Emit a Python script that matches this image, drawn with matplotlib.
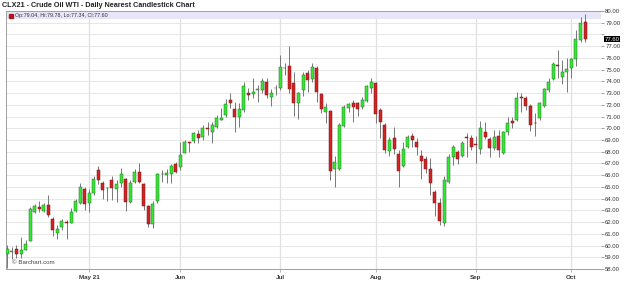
import numpy as np
import pandas as pd
import matplotlib
matplotlib.use("Agg")
import matplotlib.pyplot as plt
from matplotlib.patches import Rectangle
from matplotlib.transforms import blended_transform_factory

plt.rcParams['font.family'] = ['Liberation Sans', 'DejaVu Sans']

title = "CLX21 - Crude Oil WTI - Daily Nearest Candlestick Chart"
holidays = ["2021-05-31", "2021-07-05", "2021-09-06"]
dates = pd.bdate_range("2021-04-07", "2021-10-06", freq="C", holidays=holidays)
month_labels = ["May 21", "Jun", "Jul", "Aug", "Sep", "Oct"]

# daily OHLC
opens = [59.26, 59.45, 59.70, 59.30, 59.65, 60.40, 62.90, 63.25, 62.95, 63.45,
         62.30, 61.05, 61.60, 62.05, 61.90, 62.95, 63.60, 64.83, 63.60, 64.50,
         66.45, 65.30, 64.87, 65.55, 64.83, 65.37, 65.70, 63.70, 65.45, 66.30,
         65.23, 63.33, 61.80, 63.80, 66.08, 66.02, 66.10, 66.93, 66.70, 67.93,
         68.80, 68.92, 69.51, 69.29, 70.02, 69.72, 70.14, 70.70, 71.14, 72.41,
         71.62, 71.00, 71.56, 73.04, 72.93, 73.30, 73.27, 73.98, 72.70, 73.40,
         73.41, 75.12, 75.31, 73.84, 72.13, 73.27, 74.68, 74.17, 75.11, 72.90,
         71.42, 71.48, 66.51, 66.50, 70.20, 71.70, 72.13, 72.19, 71.85, 72.36,
         73.41, 73.89, 71.56, 70.28, 68.07, 69.15, 67.80, 66.79, 68.44, 69.35,
         68.86, 67.64, 67.36, 66.51, 64.60, 63.67, 61.90, 65.45, 67.58, 68.01,
         67.67, 69.27, 69.15, 68.60, 68.21, 69.72, 69.06, 68.30, 69.35, 67.93,
         69.71, 70.63, 70.71, 72.64, 72.61, 71.90, 70.45, 70.85, 71.93, 73.27,
         74.17, 75.37, 74.40, 74.77, 75.11, 75.88, 77.53, 79.04]
highs = [60.06, 59.90, 60.05, 60.70, 60.50, 63.30, 63.55, 63.80, 63.60, 64.30,
         62.45, 61.75, 62.30, 62.20, 63.20, 64.00, 65.37, 64.95, 64.83, 65.95,
         66.80, 65.50, 65.03, 65.90, 65.60, 66.60, 65.75, 65.60, 66.50, 67.00,
         65.30, 63.47, 63.80, 66.20, 66.45, 66.56, 66.96, 67.15, 68.80, 69.00,
         68.86, 69.72, 69.86, 70.28, 70.57, 70.57, 71.14, 71.70, 72.47, 72.98,
         72.27, 72.13, 73.98, 73.41, 74.26, 73.69, 74.26, 74.26, 73.32, 73.70,
         76.25, 75.54, 77.02, 74.83, 73.13, 74.83, 74.97, 75.54, 75.31, 72.98,
         72.13, 71.56, 67.60, 70.43, 71.99, 72.19, 72.41, 72.27, 72.64, 73.70,
         74.26, 73.98, 71.70, 70.43, 69.29, 70.14, 68.15, 68.86, 69.43, 69.63,
         69.15, 68.15, 67.60, 67.44, 64.74, 64.03, 65.97, 67.78, 68.58, 68.15,
         68.92, 69.57, 69.43, 69.35, 70.63, 70.57, 69.29, 69.86, 69.86, 69.80,
         70.99, 70.99, 73.13, 73.04, 72.76, 72.07, 71.28, 72.27, 73.47, 74.26,
         75.68, 76.68, 75.82, 76.02, 76.02, 78.38, 79.46, 79.78]
lows = [58.07, 58.85, 58.90, 58.90, 59.60, 60.35, 62.75, 62.90, 62.90, 62.45,
        60.80, 60.55, 61.35, 60.60, 61.90, 62.90, 63.55, 63.05, 62.85, 64.30,
        65.25, 63.95, 63.83, 63.85, 63.75, 65.03, 62.98, 63.60, 65.37, 65.30,
        63.05, 61.60, 61.48, 63.60, 65.40, 65.30, 65.37, 66.16, 66.45, 67.87,
        67.97, 68.78, 68.78, 69.00, 69.43, 68.72, 70.00, 70.70, 71.00, 71.70,
        69.72, 70.14, 71.42, 72.41, 72.56, 72.27, 72.98, 72.56, 71.93, 72.84,
        73.27, 74.54, 72.98, 71.05, 70.77, 72.76, 73.13, 73.98, 72.27, 71.28,
        70.43, 65.60, 65.00, 66.40, 70.14, 71.42, 70.57, 71.05, 71.62, 72.27,
        72.98, 70.43, 69.15, 67.93, 67.67, 67.80, 65.03, 66.73, 68.30, 68.44,
        67.73, 65.65, 66.22, 64.32, 62.53, 61.76, 61.68, 65.37, 66.87, 66.96,
        67.58, 67.58, 68.15, 67.00, 67.81, 69.09, 67.58, 68.15, 67.53, 67.81,
        69.43, 70.00, 70.65, 71.42, 71.56, 69.80, 69.35, 70.71, 71.85, 73.13,
        74.12, 74.26, 73.75, 73.13, 74.26, 75.31, 77.39, 77.34]
closes = [59.72, 59.50, 59.27, 59.63, 60.10, 63.10, 63.38, 63.10, 63.45, 62.60,
          61.30, 61.40, 62.10, 61.90, 62.90, 63.80, 64.97, 63.55, 64.45, 65.65,
          65.60, 64.75, 64.90, 64.90, 65.25, 66.10, 63.75, 65.37, 66.30, 65.45,
          63.33, 61.80, 63.52, 66.10, 66.10, 66.20, 66.80, 66.25, 67.73, 68.80,
          68.78, 69.57, 69.20, 70.00, 69.98, 70.28, 70.90, 70.91, 72.07, 72.13,
          71.00, 71.62, 73.60, 72.84, 73.13, 73.32, 74.03, 72.84, 72.98, 73.42,
          75.26, 75.10, 73.35, 72.13, 72.98, 74.55, 74.12, 75.20, 73.13, 71.62,
          71.79, 66.36, 67.16, 70.28, 71.85, 72.04, 71.85, 71.62, 72.41, 73.61,
          73.98, 71.22, 70.57, 68.15, 69.00, 68.24, 66.39, 68.20, 69.24, 69.00,
          68.38, 67.24, 66.51, 65.37, 63.61, 62.13, 65.60, 67.58, 68.44, 67.39,
          68.72, 69.20, 68.44, 68.58, 70.00, 69.29, 68.30, 69.29, 68.15, 69.66,
          70.43, 70.43, 72.61, 72.61, 71.90, 70.28, 70.43, 72.19, 73.32, 73.98,
          75.45, 75.30, 74.83, 75.03, 75.88, 77.59, 78.95, 77.60]

o = np.array(opens)
h = np.array(highs)
l = np.array(lows)
c = np.array(closes)
x = np.arange(len(dates))

fig = plt.figure(figsize=(6.24, 2.92), dpi=100)
ax = fig.add_axes([6/624, 1 - 269/292, 595/624, 258/292])

ax.set_xlim(-0.3, 130.5)
ax.set_ylim(58, 80)

# header band
ax.axhspan(79.32, 80, color='#e6e6f8', zorder=0.5, lw=0)

# gridlines
yt = np.arange(58, 80.01, 1.0)
for v in yt:
    ax.axhline(v, color='#e3e3e3', lw=0.6, zorder=0.4)
mpos = [i for i in range(1, len(dates)) if dates[i].month != dates[i-1].month]
for p in mpos:
    ax.axvline(p, color='#e0e0e0', lw=0.9, zorder=0.4)

# candles
up = c >= o
bot = np.minimum(o, c)
hgt = np.maximum(np.abs(c - o), 0.04)
ax.vlines(x, l, h, color='#777777', lw=0.7, zorder=2)
ax.bar(x[up], hgt[up], bottom=bot[up], width=0.66, color='#33e833',
       edgecolor='#2b6e2b', lw=0.35, zorder=3)
ax.bar(x[~up], hgt[~up], bottom=bot[~up], width=0.66, color='#d42222',
       edgecolor='#6e1c1c', lw=0.35, zorder=3)

# axes styling
for s in ['left', 'bottom', 'top']:
    ax.spines[s].set_color('#a0a0a0')
    ax.spines[s].set_linewidth(0.7)
ax.spines['right'].set_visible(False)

ax.yaxis.tick_right()
ylabels = [f"{v:.2f}" for v in yt]
ylabels = ['' if abs(v - c[-1]) < 0.5 else s for v, s in zip(yt, ylabels)]
ax.set_yticks(yt)
ax.set_yticklabels(ylabels)
ax.tick_params(axis='y', length=2, width=0.5, color='#777777', labelsize=4.3,
               labelcolor='#333333', pad=1)
ax.set_xticks(mpos)
ax.set_xticklabels(month_labels, fontweight='bold')
ax.tick_params(axis='x', length=2, width=0.5, color='#999999', labelsize=4.5,
               labelcolor='#333333', pad=2)

# last price marker
tr = blended_transform_factory(ax.transAxes, ax.transData)
ax.text(1.006, c[-1], f"{c[-1]:.2f}", transform=tr, ha='left', va='center',
        fontsize=4.3, color='white',
        bbox=dict(boxstyle='square,pad=0.12', fc='black', ec='none'))

# header info
ax.add_patch(Rectangle((0.005, 0.973), 0.0067, 0.017, transform=ax.transAxes,
                       color='#b01818', zorder=5))
ax.text(0.0155, 0.983, f"Op:{o[-1]:.2f}, Hi:{h[-1]:.2f}, Lo:{l[-1]:.2f}, Cl:{c[-1]:.2f}",
        transform=ax.transAxes, ha='left', va='center', fontsize=3.9,
        color='#333333', zorder=5)

ax.text(0.01, 0.025, "\u00a9 Barchart.com", transform=ax.transAxes, ha='left',
        va='center', fontsize=4.4, color='#444444', zorder=5)

fig.text(2/624, 1 - 5.5/292, title, ha='left', va='center', fontsize=5.2,
         fontweight='bold', color='#222222')

fig.savefig("out.png", dpi=100)
